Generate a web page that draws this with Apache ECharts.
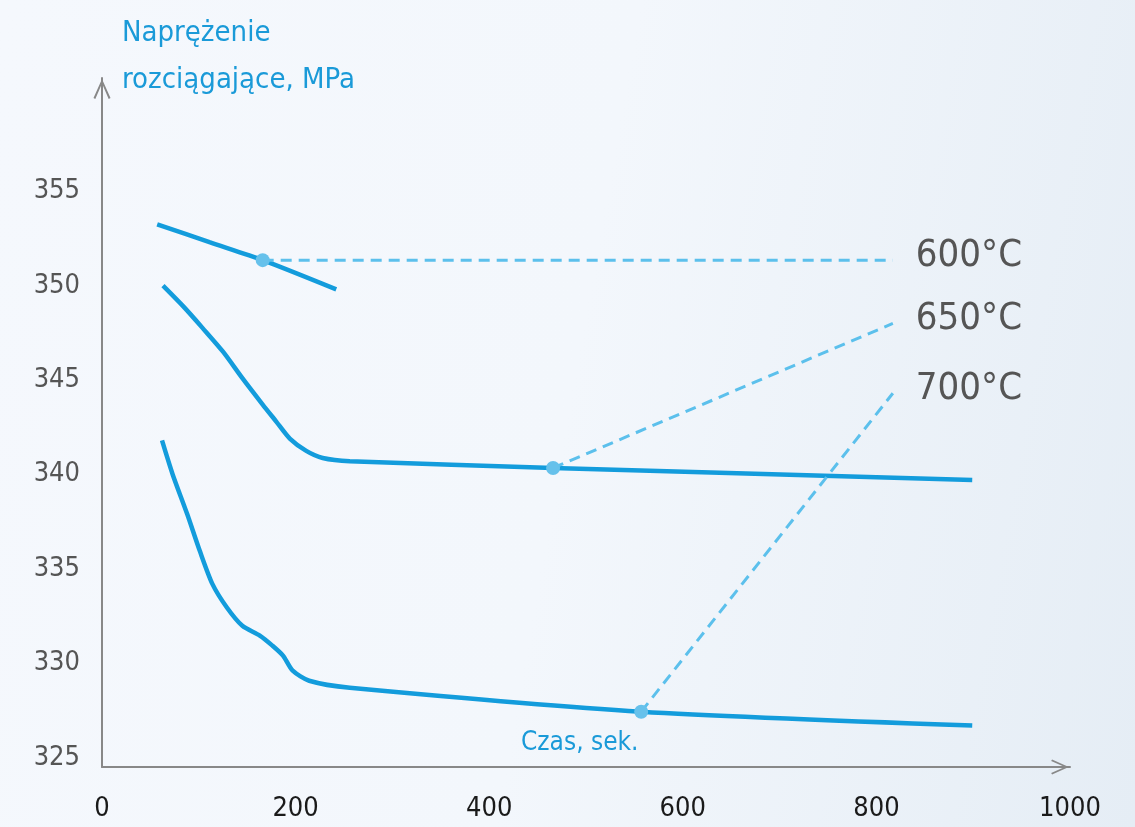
<!DOCTYPE html>
<html>
<head>
<meta charset="utf-8">
<script src="https://cdn.jsdelivr.net/npm/echarts@6/dist/echarts.min.js"></script>
<style>
  html, body { margin: 0; padding: 0; }
  body { background: linear-gradient(100deg, #f5f8fd 0%, #f3f7fc 50%, #e5edf5 100%); }
  #chart { width: 1135px; height: 827px; }
</style>
</head>
<body>
<div id="chart"></div>
<script>
// ---- data ----
const xTicks = [0, 200, 400, 600, 800, 1000];
const yTicks = [325, 330, 335, 340, 345, 350, 355];
const yTitle = 'Naprężenie\nrozciągające, MPa';
const xTitle = 'Czas, sek.';
const temps = ['600°C', '650°C', '700°C'];

const t600X = [57, 111, 166, 242];
const t600Y = [353.25, 352.3, 351.35, 349.8];

const t650X = [63, 84, 104, 125, 145, 166, 180, 194, 211, 228, 256, 466, 899];
const t650Y = [350.0, 348.9, 347.75, 346.5, 345.1, 343.7, 342.8, 341.9, 341.25, 340.87, 340.7, 340.34, 339.7];

const t700X = [62, 73, 88, 101, 114, 129, 145, 163, 176, 187, 197, 214, 256, 557, 899];
const t700Y = [341.8, 340.0, 337.9, 335.95, 334.2, 332.95, 331.98, 331.46, 330.93, 330.4, 329.6, 329.07, 328.7, 327.43, 326.7];

const markerX = [166, 466, 557];
const markerY = [351.35, 340.34, 327.43];
const labelEndX = 817;
const labelEndY = [351.35, 348.0, 344.3];

// ---- build ----
const FONT = "'Liberation Sans Narrow', 'DejaVu Sans Condensed', sans-serif";
const MAIN = '#139cdc';
const DASH = '#5cc0ec';
const DOT = '#66c1eb';
const AXIS = '#888888';
const chevron = 'path://M8.5,0 L17,19 L15.2,20 L8.5,4.6 L1.8,20 L0,19 Z';

function pairs(xs, ys) { return xs.map((x, i) => [x, ys[i]]); }

const curves = [pairs(t600X, t600Y), pairs(t650X, t650Y), pairs(t700X, t700Y)];

const series = [];
curves.forEach((d) => {
  series.push({
    type: 'line', data: d, showSymbol: false, symbol: 'none',
    smooth: 0.25,
    lineStyle: { color: MAIN, width: 4.5 }, z: 2, silent: true
  });
});
temps.forEach((t, i) => {
  series.push({
    type: 'line',
    data: [
      { value: [markerX[i], markerY[i]], symbol: 'circle', symbolSize: 14 },
      { value: [labelEndX, labelEndY[i]], symbol: 'none' }
    ],
    showAllSymbol: true,
    itemStyle: { color: DOT },
    lineStyle: { color: DASH, width: 3, type: [11, 7] },
    endLabel: { show: true, formatter: t, distance: 23, offset: [0, -4],
                fontSize: 38, color: '#555555', fontFamily: FONT },
    z: 3, silent: true
  });
});

const chart = echarts.init(document.getElementById('chart'), null, { renderer: 'canvas' });
chart.setOption({
  backgroundColor: 'transparent',
  animation: false,
  title: [
    { text: yTitle, left: 122, top: 10, padding: 0,
      textStyle: { fontSize: 29, fontWeight: 'normal', color: '#1a9ad8', fontFamily: FONT, lineHeight: 47 } },
    { text: xTitle, left: 521, top: 730, padding: 0,
      textStyle: { fontSize: 26, fontWeight: 'normal', color: '#1a9ad8', fontFamily: FONT } }
  ],
  grid: { left: 102, right: 65, top: 78, bottom: 60, containLabel: false },
  xAxis: {
    type: 'value', min: xTicks[0], max: xTicks[xTicks.length - 1], interval: 200,
    axisLine: { show: true, lineStyle: { color: AXIS, width: 2 },
                symbol: ['none', chevron], symbolSize: [15, 20], symbolOffset: [0, -10] },
    axisTick: { show: false }, splitLine: { show: false },
    axisLabel: { fontSize: 27, color: '#1a1a1a', margin: 28, fontFamily: FONT,
                 formatter: v => xTicks.includes(v) ? String(v) : '' }
  },
  yAxis: {
    type: 'value', min: 324.5, max: 361, interval: 0.5,
    axisLine: { show: true, lineStyle: { color: AXIS, width: 2 },
                symbol: ['none', chevron], symbolSize: [17, 22], symbolOffset: [0, -11] },
    axisTick: { show: false }, splitLine: { show: false },
    axisLabel: { interval: 0, fontSize: 27, color: '#555555', margin: 22, fontFamily: FONT,
                 formatter: v => yTicks.includes(v) ? String(v) : '' }
  },
  series: series
});
</script>
</body>
</html>
